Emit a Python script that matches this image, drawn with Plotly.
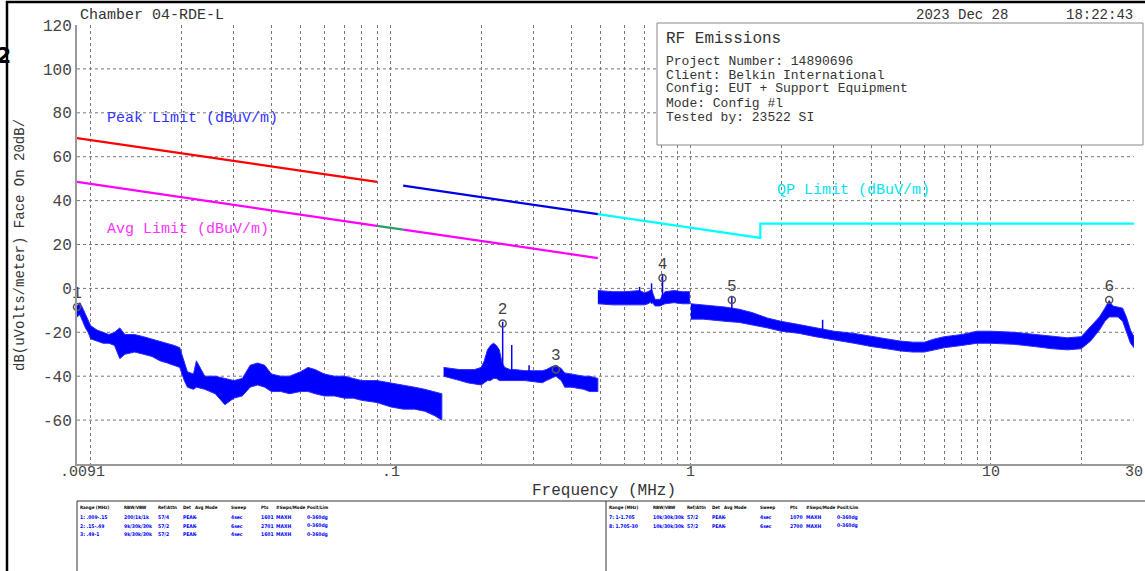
import numpy as np
import plotly.graph_objects as go

W, H = 1145, 571
L, R, T, B = 77, 1134, 25, 464  # plot area in pixels


def px(x):
    return (x - L) / (R - L)


def py(y):
    return (B - y) / (B - T)


MONO = "Liberation Mono, DejaVu Sans Mono, monospace"
NARROW = "DejaVu Sans Condensed, Liberation Sans Narrow, Arial Narrow, sans-serif"

# ---------------- limit lines (MHz, dBuV/m) ----------------
peak_f = [0.009, 0.09]
peak_v = [68.5, 48.5]
avg_f = [0.009, 0.09, None, 0.11, 0.49]
avg_v = [48.5, 28.5, None, 26.8, 13.8]
qpg_f = [0.09, 0.11]
qpg_v = [28.5, 26.8]
peak2_f = [0.11, 0.49]
peak2_v = [46.8, 33.8]
qp_f = [0.49, 1.705, 1.705, 30]
qp_v = [33.8, 23.0, 29.5, 29.5]

# ---------------- measured trace envelopes ----------------
seg1_f = [0.009, 0.0092, 0.0094, 0.0096, 0.0098, 0.010, 0.0105, 0.011, 0.0115, 0.012,
          0.0125, 0.013, 0.014, 0.015, 0.016, 0.017, 0.018, 0.019, 0.0198, 0.0205,
          0.021, 0.022, 0.0225, 0.024, 0.026, 0.028, 0.030, 0.032, 0.034, 0.036,
          0.038, 0.040, 0.043, 0.046, 0.050, 0.053, 0.056, 0.060, 0.065, 0.070,
          0.075, 0.080, 0.090, 0.100, 0.110, 0.120, 0.130, 0.140, 0.148]
seg1_lo = [-13, -12, -15, -18, -20, -23, -24, -25, -25, -26,
           -32, -30, -29, -30, -31, -33, -34, -35, -36, -42,
           -45, -46, -45, -46, -48, -53, -50, -49, -45, -44,
           -45, -47, -47, -48, -47, -47, -48, -49, -49, -50,
           -50, -51, -52, -54, -55, -55, -56, -58, -60]
seg1_hi = [-8, -6.5, -9, -12, -15, -17, -19, -20, -21, -20,
           -18, -21, -21, -22, -23, -24, -25, -26, -27, -34,
           -38, -39, -33, -40, -40, -41, -42, -41, -35, -34,
           -35, -39, -40, -40, -38, -36, -37, -39, -40, -40,
           -41, -42, -42, -43, -44, -45, -46, -47, -48]

seg2_f = [0.15, 0.16, 0.17, 0.18, 0.19, 0.20, 0.205, 0.21, 0.215, 0.22,
          0.225, 0.23, 0.235, 0.24, 0.25, 0.26, 0.28, 0.30, 0.32, 0.33,
          0.34, 0.355, 0.37, 0.38, 0.40, 0.42, 0.44, 0.46, 0.48, 0.49]
seg2_lo = [-40, -41, -42, -43, -43.5, -44, -43, -42, -42, -41,
           -41, -42, -42, -42, -42, -42, -42, -42.5, -43, -42,
           -41, -40, -42, -45, -45, -45.5, -46, -47, -47, -47]
seg2_hi = [-36, -36.5, -37, -37, -37, -36, -33, -28, -26, -25,
           -26, -28, -34, -36, -37, -37, -37.5, -37.5, -37.5, -37,
           -36, -35, -36.5, -38.5, -39, -39.5, -40, -40, -40.5, -41]

seg3_f = [0.49, 0.55, 0.60, 0.65, 0.675, 0.70, 0.72, 0.74, 0.76, 0.79, 0.82, 0.88, 0.94, 0.99]
seg3_lo = [-7, -7.5, -7.5, -7.5, -7.5, -7.5, -7, -6, -8, -8, -7, -6.5, -7, -7]
seg3_hi = [-1, -1.5, -1.5, -1, -1, -2, -1.5, -0.5, -5, -5, -1.5, -1, -1.5, -1.5]

seg4_f = [1.0, 1.1, 1.2, 1.3, 1.45, 1.6, 1.8, 2.0, 2.3, 2.6,
          3.0, 3.5, 4.0, 4.5, 5.0, 5.5, 6.0, 6.5, 7.0, 8.0,
          9.0, 10.0, 12.0, 14.0, 16.0, 18.0, 20.0, 21.5, 23.0, 24.0,
          24.8, 25.5, 26.5, 27.5, 28.3, 29.2, 30.0]
seg4_lo = [-14, -14, -14.5, -15, -15.5, -16.5, -18, -19.5, -20.5, -22,
           -23.5, -25, -26.5, -27.5, -28.5, -29, -29, -28, -27, -26,
           -25, -25, -25.5, -26.5, -27.5, -28, -27.5, -24, -19, -15,
           -13, -13, -13, -15, -20, -25, -27]
seg4_hi = [-7, -7.5, -8, -8.5, -9.5, -11, -13.5, -15, -16.5, -18,
           -19.5, -20.5, -22, -23, -24, -24.5, -24.5, -23, -22, -21,
           -19.5, -19.5, -20, -21, -22, -22.5, -22, -17.5, -13, -9,
           -5.5, -8, -8.5, -9, -13, -19, -22]

# narrow spikes
spike_f = [0.236, 0.253, 0.289, 0.675, 0.74, 0.805, 1.37, 2.75]
spike_base = [-41, -41, -42, -7, -7, -7, -15, -20]
spike_top = [-15.2, -25.8, -35, 0.7, 2.3, 6.2, -3.8, -14.3]

# markers
mk_f = [0.009, 0.236, 0.355, 0.805, 1.37, 24.8]
mk_v = [-8.5, -16.0, -37.0, 4.7, -5.3, -5.3]
mk_lbl = ["1", "2", "3", "4", "5", "6"]

# axis ticks
y_ticks = [-60, -40, -20, 0, 20, 40, 60, 80, 100, 120]
x_grid = [m * 10.0 ** e for e in (-2, -1, 0) for m in range(1, 10)] + [10, 20, 30]
x_lbl_vals = [0.1, 1, 10, 30]
x_lbl_text = [".1", "1", "10", "30"]

TRACE = "#0000ff"
fig = go.Figure()

for f, lo, hi in [(seg1_f, seg1_lo, seg1_hi), (seg2_f, seg2_lo, seg2_hi),
                  (seg3_f, seg3_lo, seg3_hi), (seg4_f, seg4_lo, seg4_hi)]:
    fig.add_trace(go.Scatter(
        x=list(f) + list(f)[::-1], y=list(hi) + list(lo)[::-1],
        mode="lines", fill="toself", fillcolor=TRACE,
        line=dict(color="#2a2aff", width=1), hoverinfo="skip", showlegend=False))

sx, sy = [], []
for f, b, t in zip(spike_f, spike_base, spike_top):
    sx += [f, f, None]
    sy += [b, t, None]
fig.add_trace(go.Scatter(x=sx, y=sy, mode="lines", line=dict(color=TRACE, width=1.5),
                         showlegend=False, hoverinfo="skip"))

# limit lines
fig.add_trace(go.Scatter(x=peak_f, y=peak_v, mode="lines", line=dict(color="#ff0000", width=2.2), showlegend=False))
fig.add_trace(go.Scatter(x=avg_f, y=avg_v, mode="lines", line=dict(color="#ff00ff", width=2.2), showlegend=False))
fig.add_trace(go.Scatter(x=qpg_f, y=qpg_v, mode="lines", line=dict(color="#2e9a6a", width=2.2), showlegend=False))
fig.add_trace(go.Scatter(x=peak2_f, y=peak2_v, mode="lines", line=dict(color="#0000e6", width=2.2), showlegend=False))
fig.add_trace(go.Scatter(x=qp_f, y=qp_v, mode="lines", line=dict(color="#00ffff", width=2.2), showlegend=False))

# markers
fig.add_trace(go.Scatter(
    x=mk_f, y=mk_v, mode="markers+text", text=mk_lbl, textposition="top center",
    textfont=dict(family=MONO, size=16, color="#444"),
    marker=dict(symbol="circle-open", size=7, line=dict(color="#555", width=1.5), color="#555"),
    cliponaxis=False, showlegend=False))

ann = []
# x tick labels
for v, t in zip(x_lbl_vals, x_lbl_text):
    ann.append(dict(x=np.log10(v), xref="x", y=py(472), yref="paper", text=t, showarrow=False,
                    xanchor="center", yanchor="middle", font=dict(family=MONO, size=15, color="#444")))
ann.append(dict(x=px(82), xref="paper", y=py(472), yref="paper", text=".0091", showarrow=False,
                xanchor="center", yanchor="middle", font=dict(family=MONO, size=15, color="#444")))


def txt(x, y, s, size=13, color="#333", anchor="left", **kw):
    ann.append(dict(x=px(x), y=py(y), xref="paper", yref="paper", text=s, showarrow=False,
                    xanchor=anchor, yanchor="middle",
                    font=dict(family=kw.pop("family", MONO), size=size, color=color), **kw))


txt(604, 491, "Frequency (MHz)", size=16, anchor="center")
txt(20, 245, "dB(uVolts/meter) Face On 20dB/", size=14, anchor="center", textangle=-90)
txt(78, 15, "Chamber 04-RDE-L", size=15)
txt(1010, 15, "2023 Dec 28", size=14, anchor="right")
txt(1135, 15, "18:22:43", size=14, anchor="right")
txt(3, 55, "<b>2</b>", size=22, color="#000", anchor="center", family="DejaVu Sans, sans-serif")

txt(664, 39, "RF Emissions", size=16)
info = ["Project Number: 14890696", "Client: Belkin International",
        "Config: EUT + Support Equipment", "Mode: Config #l", "Tested by: 23522 SI"]
for i, s in enumerate(info):
    txt(664, 61 + 14 * i, s, size=13)

txt(105, 118, "Peak Limit (dBuV/m)", size=15, color="#3333ff")
txt(105, 229, "Avg Limit (dBuV/m)", size=15, color="#ff33ff")
txt(775, 191, "QP Limit (dBuV/m)", size=15, color="#00e5ee")

# bottom settings tables
hdr = ["Range (MHz)", "RBW/VBW", "Ref/Attn", "Det", "Avg Mode", "Sweep", "Pts", "#Swps/Mode", "Posit/Lim"]
left_cols = [78, 122, 156, 181, 193, 229, 259, 274, 305]
right_cols = [607, 651, 685, 710, 722, 758, 788, 804, 835]
left_rows = [["1: .009-.15", "200/1k/1k", "57/4", "PEAK", "-", "4sec", "1601", "MAXH", "0-360dg"],
             ["2: .15-.49", "9k/30k/30k", "57/2", "PEAK", "-", "6sec", "2701", "MAXH", "0-360dg"],
             ["3: .49-1", "9k/30k/30k", "57/2", "PEAK", "-", "4sec", "1601", "MAXH", "0-360dg"]]
right_rows = [["7: 1-1.705", "10k/30k/30k", "57/2", "PEAK", "-", "4sec", "1070", "MAXH", "0-360dg"],
              ["8: 1.705-30", "10k/30k/30k", "57/2", "PEAK", "-", "6sec", "2700", "MAXH", "0-360dg"]]
for cols, rows in [(left_cols, left_rows), (right_cols, right_rows)]:
    for c, h in zip(cols, hdr):
        txt(c, 508, "<b>" + h + "</b>", size=4.5, color="#000", family=NARROW)
    for r, row in enumerate(rows):
        for c, s in zip(cols, row):
            txt(c, 517 + 8.7 * r, "<b>" + s + "</b>", size=5, color="#0000ff", family=NARROW)

shapes = []
# horizontal grid lines at the y ticks (except the top one)
for v in y_ticks[:-1]:
    shapes.append(dict(type="line", xref="paper", yref="y", x0=0, x1=1, y0=v, y1=v,
                       line=dict(color="#777", width=1, dash="3px,3px"), layer="below"))
shapes += [
    dict(type="rect", xref="paper", yref="paper", x0=px(657), x1=px(1143), y0=py(23), y1=py(145),
         line=dict(color="#888", width=1), fillcolor="white", layer="above"),
    dict(type="rect", xref="paper", yref="paper", x0=px(77), x1=px(1147), y0=py(501), y1=py(575),
         line=dict(color="#333", width=1)),
    dict(type="line", xref="paper", yref="paper", x0=px(606), x1=px(606), y0=py(501), y1=py(575),
         line=dict(color="#333", width=1)),
    # outer page frame (top and left edges)
    dict(type="rect", xref="paper", yref="paper", x0=px(7), x1=px(1150), y0=py(2), y1=py(580),
         line=dict(color="#000", width=2.5), fillcolor="rgba(0,0,0,0)", layer="above"),
]

fig.update_layout(
    width=W, height=H,
    margin=dict(l=L, r=W - R, t=T, b=H - B),
    paper_bgcolor="white", plot_bgcolor="white",
    showlegend=False,
    annotations=ann, shapes=shapes,
    xaxis=dict(type="log", range=[np.log10(0.009), np.log10(30)], tickvals=x_grid,
               showticklabels=False, ticks="", showgrid=True, gridcolor="#777", gridwidth=1,
               griddash="3px,3px", showline=True, linecolor="#999", linewidth=2, zeroline=False),
    yaxis=dict(range=[-80, 120], tickvals=y_ticks, ticktext=[str(v) for v in y_ticks],
               tickfont=dict(family=MONO, size=16, color="#444"), ticks="", showgrid=False,
               showline=True, linecolor="#999", linewidth=2, zeroline=False),
)

fig.write_html("out.html", config={"displayModeBar": False},
               post_script="document.body.style.margin='0px';")
